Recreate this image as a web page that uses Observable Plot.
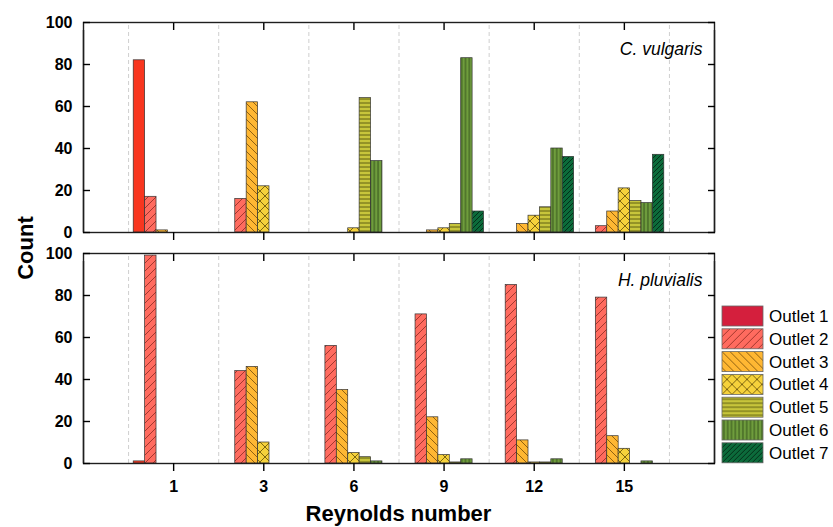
<!DOCTYPE html>
<html><head><meta charset="utf-8">
<script src="https://cdn.jsdelivr.net/npm/d3@7"></script>
<script src="https://cdn.jsdelivr.net/npm/@observablehq/plot@0.6"></script>
<style>body{margin:0;background:#fff;}</style>
</head><body><div id="chart"></div>
<script>
// ---- data ----
const reLabels = ["1", "3", "6", "9", "12", "15"];
const outlets = ["Outlet 1", "Outlet 2", "Outlet 3", "Outlet 4", "Outlet 5", "Outlet 6", "Outlet 7"];
const panels = ["C. vulgaris", "H. pluvialis"];
// rows = outlets, columns = Reynolds numbers
const cVulgaris = [
  [82, 0, 0, 0, 0, 0],
  [17, 16, 0, 0, 0, 3],
  [1, 62, 0, 1, 4, 10],
  [0, 22, 2, 2, 8, 21],
  [0, 0, 64, 4, 12, 15],
  [0, 0, 34, 83, 40, 14],
  [0, 0, 0, 10, 36, 37]
];
const hPluvialis = [
  [1, 0, 0, 0, 0, 0],
  [99, 44, 56, 71, 85, 79],
  [0, 46, 35, 22, 11, 13],
  [0, 10, 5, 4, 0.5, 7],
  [0, 0, 3, 0.5, 0.5, 0],
  [0, 0, 1, 2, 2, 1],
  [0, 0, 0, 0, 0, 0]
];
const yTicks = [0, 20, 40, 60, 80, 100];

// ---- styles ----
const patterns = [
  {bg: "#f8361f", kind: "solid"},
  {bg: "#ff6b5f", kind: "fwd", size: 8, line: "rgba(110,25,15,0.8)"},
  {bg: "#ffb733", kind: "back", size: 8, line: "rgba(90,55,0,0.85)"},
  {bg: "#f6d23b", kind: "cross", size: 10, line: "rgba(80,60,0,0.9)"},
  {bg: "#c7c53b", kind: "horiz", size: 4, line: "rgba(55,55,0,0.9)"},
  {bg: "#6f9d3d", kind: "vert", size: 3.8, line: "rgba(30,55,15,0.9)"},
  {bg: "#0c6b3b", kind: "fwd", size: 5, line: "rgba(0,25,10,0.9)"}
];
const legendSolid = "#d41f3d";
const groupWidth = 0.886;
const bw = groupWidth / outlets.length;

const idx = reLabels.map((d, i) => i);
const rows = [];
[cVulgaris, hPluvialis].forEach((tbl, p) => {
  tbl.forEach((vals, k) => {
    vals.forEach((v, i) => {
      const x1 = i - groupWidth / 2 + k * bw;
      rows.push({panel: panels[p], outlet: outlets[k], k, i, value: v, x1, x2: x1 + bw});
    });
  });
});
const gridPos = idx.map(i => i - 0.5).concat([idx.length - 0.5]);

const ink = "#1e1e1e";
const chart = Plot.plot({
  width: 833, height: 527,
  marginLeft: 83, marginRight: 119, marginTop: 21, marginBottom: 63,
  style: {fontFamily: "'Liberation Sans', Arial, sans-serif", fontSize: "16px", color: "#000", background: "#fff"},
  x: {domain: [-1, 6], axis: null},
  y: {domain: [0, 100], axis: null},
  fy: {domain: panels, paddingInner: 0.0905, paddingOuter: 0, axis: null, label: null},
  marks: [
    Plot.ruleX(gridPos, {y1: 0, y2: 100, stroke: "#cfcfcf", strokeDasharray: "4,3", strokeWidth: 1}),
    ...outlets.map((o, k) => Plot.rect(rows.filter(r => r.k === k && r.value > 0), {
      x1: "x1", x2: "x2", y1: 0, y2: "value", fy: "panel",
      fill: `url(#pat${k})`, stroke: "#333", strokeWidth: 0.7
    })),
    Plot.frame({stroke: ink, strokeWidth: 1.4}),
    Plot.ruleX([-1, 6], {y1: 0, y2: 100, insetBottom: -8, stroke: ink, strokeWidth: 1.4}),
    Plot.axisX({anchor: "top", ticks: idx, tickSize: -7, tickFormat: () => "", facetAnchor: null, label: null, strokeWidth: 1.4}),
    Plot.axisX({anchor: "bottom", ticks: idx, tickSize: 8, tickFormat: () => "", facetAnchor: null, label: null, strokeWidth: 1.4}),
    Plot.axisY({anchor: "left", ticks: yTicks, tickSize: -7, tickPadding: 18, label: null, fontSize: 16, fontWeight: "bold", strokeWidth: 1.4}),
    Plot.axisY({anchor: "right", ticks: yTicks, tickSize: -7, tickFormat: () => "", label: null, strokeWidth: 1.4}),
    Plot.text(idx.map(i => ({i, panel: panels[1]})), {
      x: "i", fy: "panel", text: d => reLabels[d.i], frameAnchor: "bottom", dy: 23,
      fontSize: 16, fontWeight: "bold", lineAnchor: "middle"
    }),
    Plot.text(panels.map(p => ({panel: p})), {
      fy: "panel", text: "panel", frameAnchor: "top-right", dx: -12, dy: 27,
      fontStyle: "italic", fontSize: 17.5, lineAnchor: "middle", textAnchor: "end"
    })
  ]
});
document.getElementById("chart").appendChild(chart);

// ---- pattern defs, titles, legend ----
const svg = d3.select(chart);
const defs = svg.insert("defs", ":first-child");
patterns.forEach((p, k) => {
  const s = p.size || 10;
  const pat = defs.append("pattern").attr("id", `pat${k}`).attr("patternUnits", "userSpaceOnUse")
    .attr("width", s).attr("height", s);
  pat.append("rect").attr("width", s).attr("height", s).attr("fill", p.bg);
  let d = null;
  if (p.kind === "fwd") d = `M0,${s} L${s},0 M${-s/4},${s/4} L${s/4},${-s/4} M${s*3/4},${s*5/4} L${s*5/4},${s*3/4}`;
  if (p.kind === "back") d = `M0,0 L${s},${s} M${-s/4},${s*3/4} L${s/4},${s*5/4} M${s*3/4},${-s/4} L${s*5/4},${s/4}`;
  if (p.kind === "cross") d = `M0,${s} L${s},0 M0,0 L${s},${s}`;
  if (p.kind === "horiz") d = `M0,${s/2} L${s},${s/2}`;
  if (p.kind === "vert") d = `M${s/2},0 L${s/2},${s}`;
  if (d) pat.append("path").attr("d", d).attr("stroke", p.line).attr("stroke-width", 0.8).attr("fill", "none");
});

svg.append("text").attr("transform", "translate(25,248) rotate(-90)")
  .attr("text-anchor", "middle").attr("dominant-baseline", "central")
  .attr("font-size", 22).attr("font-weight", "bold").attr("fill", "#000").text("Count");
svg.append("text").attr("x", 398.5).attr("y", 513)
  .attr("text-anchor", "middle").attr("dominant-baseline", "central")
  .attr("font-size", 22).attr("font-weight", "bold").attr("fill", "#000").text("Reynolds number");

const leg = svg.append("g").attr("transform", "translate(722,306)");
outlets.forEach((o, k) => {
  const g = leg.append("g").attr("transform", `translate(0,${k * 22.8})`);
  g.append("rect").attr("width", 41).attr("height", 20)
    .attr("fill", k === 0 ? legendSolid : `url(#pat${k})`).attr("stroke", "#666").attr("stroke-width", 0.8);
  g.append("text").attr("x", 47).attr("y", 10.5).attr("dominant-baseline", "central")
    .attr("text-anchor", "start")
    .attr("font-size", 17).attr("fill", "#000").text(o);
});
</script>
</body></html>
